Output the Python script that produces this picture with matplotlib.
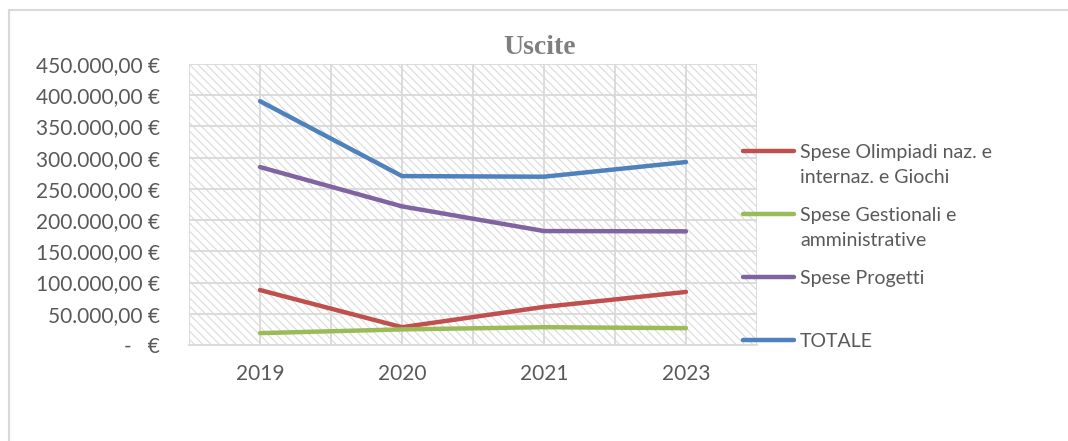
import matplotlib
matplotlib.use("Agg")
import matplotlib.pyplot as plt
from matplotlib.lines import Line2D
from matplotlib.patches import Rectangle
from matplotlib.ticker import FuncFormatter, MultipleLocator

years = ["2019", "2020", "2021", "2023"]
olimpiadi   = [88000, 28500, 61000, 85000]
gestionali  = [19000, 25000, 28500, 27000]
progetti    = [285000, 222000, 182500, 182000]
totale      = [390500, 270500, 269500, 293000]

labels = ["Spese Olimpiadi naz. e\ninternaz. e Giochi",
          "Spese Gestionali e\namministrative",
          "Spese Progetti",
          "TOTALE"]
colors = ["#C0504D", "#9BBB59", "#8064A2", "#4F81BD"]
series = [olimpiadi, gestionali, progetti, totale]

TXT = "#595959"
GRID = "#d9d9d9"
W, H = 1068, 441
plt.rcParams["font.family"] = ["Lato", "DejaVu Sans"]
plt.rcParams["hatch.color"] = "#dadada"
plt.rcParams["hatch.linewidth"] = 0.8

fig = plt.figure(figsize=(W / 100, H / 100), dpi=100, facecolor="white")
ax = fig.add_axes([189 / W, 1 - 345 / H, (757 - 189) / W, (345 - 64) / H])

x = range(len(years))
# hatched plot area
ax.add_patch(Rectangle((0, 0), 1, 1, transform=ax.transAxes, facecolor="white",
                       edgecolor="#dadada", hatch="\\\\\\\\", lw=0, zorder=0))

for vals, col in zip(series, colors):
    ax.plot(x, vals, color=col, lw=3.2, solid_capstyle="round", zorder=3)

ax.set_xlim(-0.5, 3.5)
ax.set_ylim(0, 450000)
ax.yaxis.set_major_locator(MultipleLocator(50000))
ax.xaxis.set_minor_locator(MultipleLocator(0.5))
ax.set_xticks(list(x))
ax.set_xticklabels(years)


def eur(v, pos):
    if v == 0:
        return "-   €"
    s = f"{v:,.2f}".replace(",", "X").replace(".", ",").replace("X", ".")
    return s + " €"


ax.yaxis.set_major_formatter(FuncFormatter(eur))
ax.grid(True, which="both", axis="x", color=GRID, lw=1.3, zorder=1)
ax.grid(True, which="major", axis="y", color=GRID, lw=1.3, zorder=1)
ax.set_axisbelow(True)
for s in ["top", "right", "left"]:
    ax.spines[s].set_visible(False)
ax.spines["bottom"].set_color(GRID)
ax.spines["bottom"].set_linewidth(1.3)
ax.tick_params(axis="both", which="both", length=0, labelsize=15, colors=TXT)
ax.tick_params(axis="y", pad=21)
ax.tick_params(axis="x", pad=14)

fig.text(540 / W, 1 - 48 / H, "Uscite", ha="center", va="center", fontsize=20,
         fontweight="bold", color="#7f7f7f", family="Liberation Serif")

# legend, drawn by hand so the line sits on the first text line
for i, (lab, col) in enumerate(zip(labels, colors)):
    yp = 1 - (151 + 63 * i) / H
    fig.add_artist(Line2D([743 / W, 794 / W], [yp, yp], color=col, lw=3.2,
                          solid_capstyle="round", transform=fig.transFigure))
    fig.text(800 / W, yp + 7 / H, lab, ha="left", va="top", fontsize=14,
             color=TXT, linespacing=1.55)

# chart frame
fig.add_artist(Line2D([9 / W, 1], [1 - 10 / H, 1 - 10 / H], color=GRID, lw=1.5,
                      transform=fig.transFigure))
fig.add_artist(Line2D([9 / W, 9 / W], [0, 1 - 10 / H], color=GRID, lw=1.5,
                      transform=fig.transFigure))

fig.savefig("out.png", dpi=100, facecolor="white")
